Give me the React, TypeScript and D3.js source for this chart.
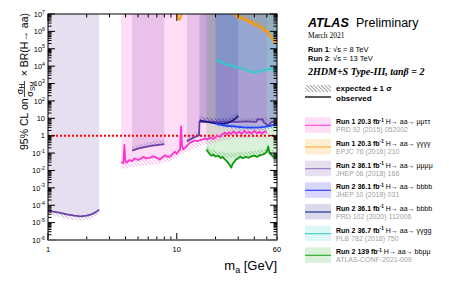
import React from "react";
import * as d3 from "d3";

type Pt = [number, number];
type Band = [number, number, number];

// observed limits: [m_a in GeV, 95% CL limit]
// expected +-1 sigma: [m_a, low, high]

// Run 1 H -> aa -> mumutautau
const mmttObs: Pt[] = [
  [3.7, 0.03], [3.85, 0.026], [3.92, 0.3], [3.98, 0.04], [4.05, 0.028], [4.3, 0.04],
  [4.5, 0.034], [4.7, 0.05], [5.0, 0.04], [5.2, 0.045], [5.5, 0.06], [5.8, 0.05],
  [6.2, 0.055], [6.5, 0.065], [6.8, 0.06], [7.1, 0.05], [7.4, 0.042], [7.8, 0.06],
  [8.1, 0.075], [8.5, 0.06], [8.9, 0.065], [9.3, 0.09], [9.7, 0.12], [10.0, 0.09],
  [10.3, 0.13], [10.6, 0.16], [10.8, 3.4], [11.0, 0.25], [11.2, 0.16], [11.6, 0.2],
  [12.0, 0.27], [12.7, 0.4], [13.3, 0.45], [13.8, 0.52], [14.5, 0.48], [15.2, 0.55],
  [16.0, 0.62], [16.6, 0.7], [17.3, 0.6], [18.0, 0.8], [19.0, 0.65], [19.8, 0.75],
  [20.6, 1.0], [21.6, 0.85], [22.5, 1.2], [23.7, 1.5], [24.5, 1.15], [25.5, 1.6],
  [26.5, 1.25], [27.5, 1.8], [29, 1.3], [30.5, 1.7], [32, 1.25], [33.5, 1.9],
  [35, 1.4], [36.5, 1.7], [38, 1.3], [40, 1.9], [42, 1.4], [44, 1.7], [46, 1.3],
  [48, 1.8], [50, 1.5],
];
const mmttExp: Band[] = [
  [3.7, 0.012, 0.03], [5, 0.018, 0.045], [7, 0.022, 0.055], [9, 0.035, 0.08],
  [10.5, 0.07, 0.15], [12, 0.12, 0.25], [15, 0.25, 0.5], [20, 0.4, 0.8],
  [25, 0.6, 1.2], [30, 0.7, 1.4], [40, 0.8, 1.5], [50, 0.8, 1.5],
];

// Run 1 H -> aa -> gamma gamma gamma gamma
const g4Obs: Pt[] = [
  [10, 1.5e7], [10.2, 6e6], [10.5, 4.5e6], [10.8, 8e6], [11.2, 2e7], [12, 6e7],
  [15, 2e8], [20, 3e8], [24, 1e8], [26, 2.5e7], [27, 1e7], [28, 1.2e7], [29, 7e6],
  [30, 8e6], [31, 5e6], [32.5, 6.5e6], [34, 4e6], [35.5, 5e6], [37, 3e6],
  [38.5, 3.8e6], [40, 2.2e6], [42, 2.8e6], [44, 1.6e6], [46, 1.8e6], [48, 1.0e6],
  [50, 1.1e6], [52, 6e5], [54, 5e5], [56, 3e5], [58, 2.5e5], [60, 1.7e5],
];
const g4Exp: Band[] = [
  [26, 1.2e7, 3e7], [35, 3e6, 7e6], [45, 1e6, 2.5e6], [60, 1.2e5, 3e5],
];

// Run 2 H -> aa -> mumumumu (three mass windows)
const mu4LowObs: Pt[] = [
  [1, 5.0e-5], [1.1, 4.3e-5], [1.25, 3.6e-5], [1.4, 3.0e-5], [1.6, 2.5e-5],
  [1.8, 2.3e-5], [2.0, 2.5e-5], [2.2, 3.1e-5], [2.35, 4.0e-5], [2.5, 5.6e-5],
];
const mu4LowExp: Band[] = [
  [1, 3e-5, 5e-5], [1.5, 1.5e-5, 2.8e-5], [1.8, 1.3e-5, 2.3e-5],
  [2.2, 1.8e-5, 3.1e-5], [2.5, 3.2e-5, 5.6e-5],
];
const mu4MidObs: Pt[] = [
  [4.5, 0.14], [5, 0.18], [5.5, 0.21], [6, 0.24], [6.5, 0.27], [7, 0.29],
  [7.5, 0.31], [8, 0.33],
];
const mu4MidExp: Band[] = [[4.5, 0.14, 0.24], [6, 0.24, 0.42], [8, 0.33, 0.58]];
const mu4HighObs: Pt[] = [
  [12, 0.47], [12.7, 0.6], [13.4, 0.75], [14.2, 0.9], [14.9, 1.05], [15, 6.2],
  [18, 6.5], [21, 6.2], [25, 6.5], [30, 6.3], [35, 6.6], [40, 6.2], [41.5, 6.2],
  [42, 8.6], [46.5, 8.6], [47, 6.2], [49, 5], [51, 3.8], [53, 5], [55, 6.3], [60, 6.3],
];
const mu4HighExp: Band[] = [
  [12, 0.47, 0.85], [14.9, 1.05, 1.9], [15, 6.2, 10.5], [30, 6.3, 10.5], [45, 6.6, 11],
  [60, 6.3, 10.5],
];

// Run 2 WH, H -> aa -> bbbb
const b4WHObs: Pt[] = [
  [20, 5.0], [21.5, 4.3], [23, 3.9], [25, 3.6], [27.5, 3.4], [30, 3.2], [33, 3.0],
  [36, 2.9], [40, 2.9], [44, 3.0], [48, 3.2], [52, 3.5], [56, 4.0], [60, 4.4],
];
const b4WHExp: Band[] = [[20, 3.5, 6], [30, 2.2, 4], [45, 2.0, 3.8], [60, 3.0, 5.5]];

// Run 2 ZH, H -> aa -> bbbb
const b4ZHObs: Pt[] = [
  [15, 7.3], [16, 6.8], [17, 6.2], [18.5, 5.6], [20, 5.2], [21.5, 5.0], [23, 4.8],
  [24.5, 5.2], [26, 6.2], [27.5, 8.0], [29, 10.5], [30, 13.5],
];
const b4ZHExp: Band[] = [[15, 7.3, 13], [20, 5.2, 9.5], [25, 5.5, 10], [30, 13.5, 20]];

// Run 2 H -> aa -> gamma gamma g g
const ggggObs: Pt[] = [
  [20, 2.3e4], [21, 2.0e4], [22, 1.7e4], [23.2, 1.4e4], [24.4, 1.2e4],
  [25.7, 1.15e4], [27, 1.0e4], [29, 8.8e3], [31, 7.8e3], [33, 7.0e3], [35, 5.8e3],
  [37, 5.0e3], [39.4, 4.3e3], [42, 4.5e3], [45, 5.2e3], [48.3, 6.2e3],
  [50.5, 6.8e3], [52.6, 7.1e3], [55, 6.6e3], [57.5, 6.0e3], [60, 5.5e3],
];
const ggggExp: Band[] = [
  [20, 1.8e4, 2.8e4], [30, 6e3, 9e3], [40, 3.4e3, 5.2e3], [50, 5e3, 7.5e3],
  [60, 4.4e3, 6.6e3],
];

// Run 2 H -> aa -> bbmumu
const bbmmObs: Pt[] = [
  [17, 0.16], [17.6, 0.11], [18.5, 0.071], [19.3, 0.08], [20, 0.062], [21, 0.07],
  [22, 0.052], [22.7, 0.06], [23.5, 0.045], [24.2, 0.037], [25, 0.028],
  [25.8, 0.02], [26.5, 0.0145], [27.2, 0.025], [28, 0.032], [28.8, 0.042],
  [30, 0.05], [31, 0.062], [32.5, 0.05], [34, 0.06], [36, 0.054], [38, 0.065],
  [40, 0.071], [42, 0.06], [44, 0.075], [46, 0.08], [48, 0.09], [50, 0.12],
  [51.3, 0.24], [52.5, 0.1], [54, 0.08], [57, 0.054], [60, 0.062],
];
const bbmmExp: Band[] = [
  [17, 0.12, 0.25], [20, 0.07, 0.13], [25, 0.05, 0.1], [30, 0.06, 0.11],
  [40, 0.07, 0.13], [50, 0.1, 0.18], [60, 0.07, 0.13],
];

// legend text
const legRun = ["Run 1", "Run 1", "Run 2", "Run 2", "Run 2", "Run 2", "Run 2"];
const legLumi = ["20.3", "20.3", "36.1", "36.1", "36.1", "36.7", "139"];
const legFinal = ["μμττ", "γγγγ", "μμμμ", "bbbb", "bbbb", "γγgg", "bbμμ"];
const legRef = [
  "PRD 92 (2015) 052002",
  "EPJC 76 (2016) 210",
  "JHEP 06 (2018) 166",
  "JHEP 10 (2018) 031",
  "PRD 102 (2020) 112006",
  "PLB 782 (2018) 750",
  "ATLAS-CONF-2021-009",
];

const W = 449;
const H = 287;
const L = 48, R = 277, T = 14, B = 240;
const sans = "'Liberation Sans', Arial, Helvetica, sans-serif";
const serif = "'Liberation Serif', 'Times New Roman', serif";

// drawing order of the excluded regions, plus legend order index
const series = [
  { id: "mu4", fill: "#8060b0", op: 0.2, line: "#6a3fa8", obs: [mu4LowObs, mu4MidObs, mu4HighObs], exp: [mu4LowExp, mu4MidExp, mu4HighExp], leg: 2, legLine: "#9a7cc4" },
  { id: "mmtt", fill: "#ff44cc", op: 0.18, line: "#ff33cc", obs: [mmttObs], exp: [mmttExp], leg: 0, legLine: "#ff55cc" },
  { id: "g4", fill: "#ffa000", op: 0.18, line: "#ff9900", obs: [g4Obs], exp: [g4Exp], leg: 1, legLine: "#ffb040" },
  { id: "bbmm", fill: "#009900", op: 0.15, line: "#119911", obs: [bbmmObs], exp: [bbmmExp], leg: 6, legLine: "#33aa33" },
  { id: "b4zh", fill: "#1a1a80", op: 0.16, line: "#1a1a8c", obs: [b4ZHObs], exp: [b4ZHExp], leg: 4, legLine: "#22338c" },
  { id: "b4wh", fill: "#3333ff", op: 0.2, line: "#2244ff", obs: [b4WHObs], exp: [b4WHExp], leg: 3, legLine: "#3344ee" },
  { id: "gggg", fill: "#33cccc", op: 0.16, line: "#33cccc", obs: [ggggObs], exp: [ggggExp], leg: 5, legLine: "#44cccc" },
];

export default function App() {
  const x = d3.scaleLog().domain([1, 60]).range([L, R]);
  const y = d3.scaleLog().domain([1e-6, 1e7]).range([B, T]);

  const line = d3.line<Pt>().x((d) => x(d[0])).y((d) => y(d[1]));
  const excl = d3.area<Pt>().x((d) => x(d[0])).y0(T).y1((d) => y(d[1]));
  const expBand = d3.area<Band>().x((d) => x(d[0])).y0((d) => y(d[1])).y1((d) => y(d[2]));

  const yTicks = y.ticks(20);
  const xTicks = x.ticks();
  const isMajor = (v: number) => Math.abs(Math.log10(v) - Math.round(Math.log10(v))) < 1e-6;
  const decades = d3.range(-6, 8);

  const legendSeries = [...series].sort((a, b) => a.leg - b.leg);
  const legTop = 117.3;
  const legStep = 21.67;

  return (
    <svg width={W} height={H} style={{ position: "absolute", left: 0, top: 0, background: "#fff" }} fontFamily={sans}>
      <defs>
        <clipPath id="plot">
          <rect x={L} y={T} width={R - L} height={B - T} />
        </clipPath>
        {series.map((s) => (
          <pattern key={s.id} id={`hatch-${s.id}`} width={2.6} height={2.6} patternUnits="userSpaceOnUse" patternTransform="rotate(-45)">
            <line x1={0} y1={0} x2={0} y2={2.6} stroke={s.line} strokeWidth={0.7} />
          </pattern>
        ))}
        <pattern id="hatch-black" width={2.6} height={2.6} patternUnits="userSpaceOnUse" patternTransform="rotate(-45)">
          <line x1={0} y1={0} x2={0} y2={2.6} stroke="#000" strokeWidth={0.7} />
        </pattern>
      </defs>

      <g clipPath="url(#plot)">
        {series.map((s) =>
          s.obs.map((o, i) => (
            <path key={`${s.id}-f${i}`} d={excl(o) ?? ""} fill={s.fill} fillOpacity={s.op} />
          ))
        )}
        {series.map((s) =>
          s.exp.map((e, i) => (
            <path key={`${s.id}-e${i}`} d={expBand(e) ?? ""} fill={`url(#hatch-${s.id})`} />
          ))
        )}
        <line x1={L} x2={R} y1={y(1)} y2={y(1)} stroke="#ff0000" strokeWidth={2} strokeDasharray="2,2" />
        {series.map((s) =>
          s.obs.map((o, i) => (
            <path key={`${s.id}-l${i}`} d={line(o) ?? ""} fill="none" stroke={s.line} strokeWidth={1.8} strokeLinejoin="round" />
          ))
        )}
      </g>

      {/* axes ticks */}
      {yTicks.map((t, i) => {
        const len = isMajor(t) ? 7 : 3.5;
        const yy = y(t);
        return (
          <g key={`yt${i}`} stroke="#000" strokeWidth={1}>
            <line x1={L} x2={L + len} y1={yy} y2={yy} />
            <line x1={R} x2={R - len} y1={yy} y2={yy} />
          </g>
        );
      })}
      {xTicks.map((t, i) => {
        const len = isMajor(t) ? 7 : 3.5;
        const xx = x(t);
        return (
          <g key={`xt${i}`} stroke="#000" strokeWidth={1}>
            <line x1={xx} x2={xx} y1={B} y2={B - len} />
            <line x1={xx} x2={xx} y1={T} y2={T + len} />
          </g>
        );
      })}
      <rect x={L} y={T} width={R - L} height={B - T} fill="none" stroke="#000" strokeWidth={1} />
      <line x1={L} x2={R} y1={B} y2={B} stroke="#777" strokeWidth={1.6} />

      {/* tick labels */}
      {decades.map((k) => (
        <text key={`yl${k}`} x={45} y={y(Math.pow(10, k)) + 2.8} fontSize={7.5} textAnchor="end">
          {k === 0 ? "1" : k === 1 ? "10" : (
            <>
              10
              <tspan dy={-3.2} fontSize={5.2}>{k}</tspan>
            </>
          )}
        </text>
      ))}
      {[1, 10, 60].map((v) => (
        <text key={`xl${v}`} x={x(v)} y={251.5} fontSize={7.5} textAnchor="middle">{v}</text>
      ))}

      {/* axis titles */}
      <text x={R} y={270} fontSize={13} textAnchor="end">
        m<tspan dy={2.5} fontSize={9}>a</tspan><tspan dy={-2.5}> [GeV]</tspan>
      </text>
      <g transform="translate(28,150) rotate(-90)" fontSize={10.5}>
        <text x={0} y={0}>95% CL on</text>
        <text x={61} y={-5.5} fontSize={9} textAnchor="middle">
          σ<tspan dy={1.8} fontSize={6.5}>H</tspan>
        </text>
        <line x1={53} x2={69} y1={-3.6} y2={-3.6} stroke="#000" strokeWidth={0.8} />
        <text x={61} y={5} fontSize={9} textAnchor="middle">
          σ<tspan dy={1.8} fontSize={6.5}>SM</tspan>
        </text>
        <text x={137} y={0} textAnchor="end">× BR(H→ aa)</text>
      </g>

      {/* header */}
      <text x={308} y={27} fontSize={12.5} fontWeight="bold" fontStyle="italic">ATLAS</text>
      <text x={356} y={27} fontSize={12.5}>Preliminary</text>
      <text x={308} y={38} fontSize={7.5} fontFamily={serif}>March 2021</text>
      <text x={308} y={52} fontSize={7.5}>
        <tspan fontWeight="bold">Run 1</tspan>: √s = 8 TeV
      </text>
      <text x={308} y={61} fontSize={7.5}>
        <tspan fontWeight="bold">Run 2</tspan>: √s = 13 TeV
      </text>
      <text x={308} y={74.5} fontSize={10} fontFamily={serif} fontWeight="bold" fontStyle="italic">
        2HDM+S Type-III, tanβ = 2
      </text>

      <rect x={305} y={85} width={26} height={7} fill="url(#hatch-black)" />
      <text x={336} y={91} fontSize={8} fontWeight="bold">expected ± 1 σ</text>
      <line x1={305} x2={331} y1={97} y2={97} stroke="#000" strokeWidth={1.3} />
      <text x={336} y={100.5} fontSize={8} fontWeight="bold">observed</text>

      {legendSeries.map((s, i) => {
        const top = legTop + i * legStep;
        return (
          <g key={`leg${i}`}>
            <rect x={305} y={top} width={26} height={15.5} fill={s.fill} fillOpacity={s.op} />
            <line x1={305} x2={331} y1={top + 8} y2={top + 8} stroke={s.legLine} strokeWidth={1.2} />
            <text x={336} y={top + 7} fontSize={7}>
              <tspan fontWeight="bold">{legRun[i]} {legLumi[i]} fb</tspan>
              <tspan fontWeight="bold" dy={-2.6} fontSize={4.8}>-1</tspan>
              <tspan dy={2.6}> H→ aa→ {legFinal[i]}</tspan>
            </text>
            <text x={336} y={top + 15} fontSize={7} fill="#a0a0a0">{legRef[i]}</text>
          </g>
        );
      })}
    </svg>
  );
}
